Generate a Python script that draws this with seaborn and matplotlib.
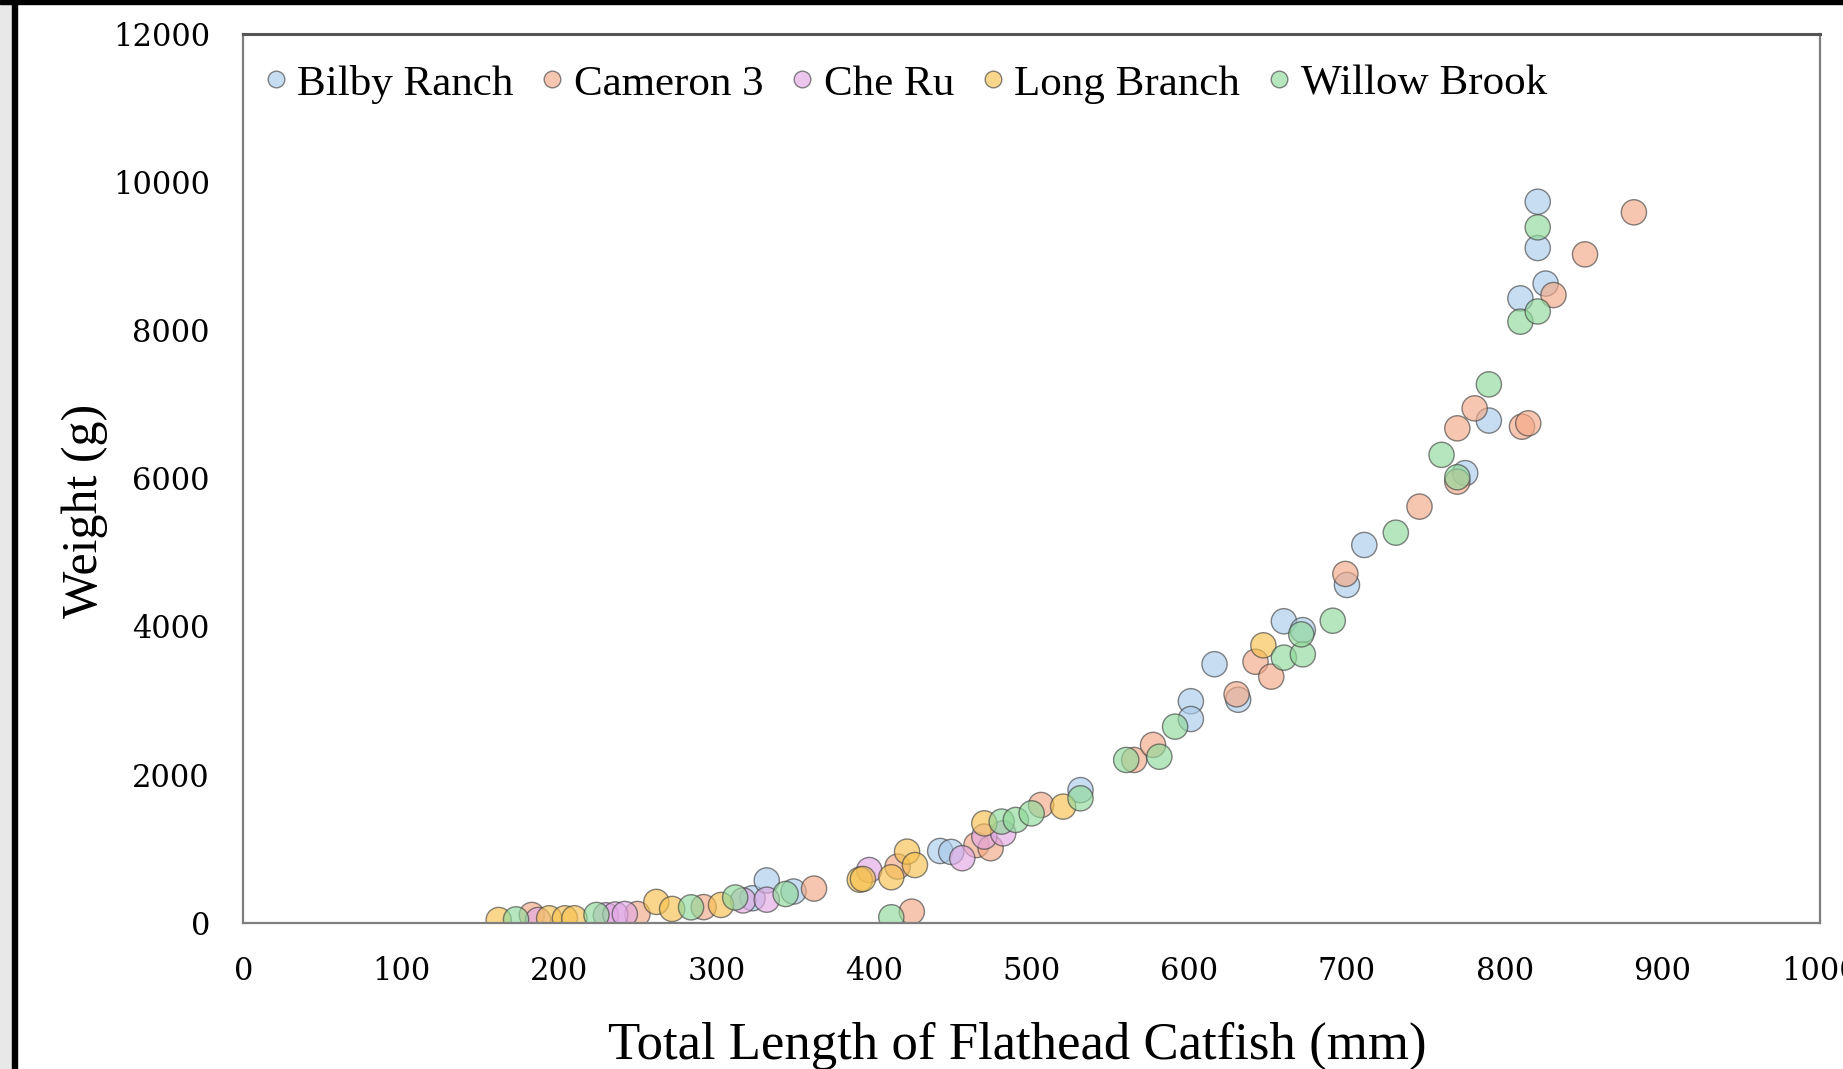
import numpy as np
import pandas as pd
import matplotlib
matplotlib.use("Agg")
import matplotlib.pyplot as plt
from matplotlib.patches import Rectangle
import seaborn as sns

# ---- data ----
sites = ["Bilby Ranch", "Cameron 3", "Che Ru", "Long Branch", "Willow Brook"]

bilby_len = [323, 332, 349, 442, 449, 531, 601, 601, 616, 631, 660, 672, 700, 711, 775, 790, 810, 821, 821, 826]
bilby_wt = [330, 570, 420, 968, 955, 1790, 2990, 2750, 3490, 3010, 4070, 3950, 4560, 5100, 6070, 6780, 8430, 9110, 9735, 8630]

cameron_len = [183, 250, 292, 362, 415, 424, 465, 474, 506, 565, 577, 630, 642, 652, 699, 746, 770, 770, 781, 811, 815, 831, 851, 882]
cameron_wt = [104, 117, 210, 460, 757, 149, 1048, 1005, 1589, 2197, 2400, 3084, 3523, 3322, 4709, 5618, 5955, 6675, 6945, 6697, 6743, 8475, 9024, 9592]

cheru_len = [187, 230, 236, 242, 317, 332, 397, 456, 470, 482]
cheru_wt = [36, 100, 110, 117, 300, 310, 711, 870, 1162, 1206]

longbranch_len = [162, 194, 204, 210, 262, 272, 303, 391, 393, 411, 421, 426, 470, 520, 647]
longbranch_wt = [36, 59, 59, 59, 280, 185, 239, 580, 590, 613, 959, 778, 1341, 1567, 3745]

willow_len = [173, 224, 284, 312, 344, 411, 481, 490, 500, 531, 560, 581, 591, 660, 672, 671, 691, 731, 760, 770, 790, 810, 821, 821]
willow_wt = [45, 104, 207, 340, 387, 73, 1365, 1387, 1476, 1679, 2197, 2241, 2647, 3579, 3623, 3893, 4077, 5266, 6317, 6015, 7269, 8115, 8253, 9389]

x_ticks = [0, 100, 200, 300, 400, 500, 600, 700, 800, 900, 1000]
y_ticks = [0, 2000, 4000, 6000, 8000, 10000, 12000]

lengths = [bilby_len, cameron_len, cheru_len, longbranch_len, willow_len]
weights = [bilby_wt, cameron_wt, cheru_wt, longbranch_wt, willow_wt]

df = pd.concat(
    [pd.DataFrame({"Length": l, "Weight": w, "Site": s}) for s, l, w in zip(sites, lengths, weights)],
    ignore_index=True,
)

palette = {
    "Bilby Ranch": "#a9cbeb",
    "Cameron 3": "#f4a886",
    "Che Ru": "#e2a8e4",
    "Long Branch": "#f6c14e",
    "Willow Brook": "#8fd99a",
}

sns.set_theme(style="white")
plt.rcParams["font.family"] = ["Liberation Serif", "DejaVu Serif"]

fig = plt.figure(figsize=(18.43, 10.69), dpi=100)
ax = fig.add_axes([0.1320, 0.1369, 0.8555, 0.8313])

sns.scatterplot(
    data=df, x="Length", y="Weight", hue="Site", hue_order=sites, palette=palette,
    s=330, alpha=0.65, edgecolor="#444444", linewidth=1.0, ax=ax,
)

ax.set_xlim(0, 1000)
ax.set_ylim(0, 12000)
ax.set_xticks(x_ticks)
ax.set_yticks(y_ticks)
ax.set_xticklabels([str(v) for v in x_ticks], fontfamily="DejaVu Serif", fontsize=22)
ax.set_yticklabels([str(v) for v in y_ticks], fontfamily="DejaVu Serif", fontsize=22)
ax.tick_params(axis="both", length=0, colors="#000000")
ax.tick_params(axis="y", pad=24)
ax.tick_params(axis="x", pad=24)

for sp in ax.spines.values():
    sp.set_color("#7f7f7f")
    sp.set_linewidth(1.6)
ax.spines["top"].set_color("#555555")
ax.spines["top"].set_linewidth(2.2)

ax.set_xlabel("Total Length of Flathead Catfish (mm)", fontsize=38, color="#000000")
ax.set_ylabel("Weight (g)", fontsize=36, color="#000000")
ax.xaxis.set_label_coords(0.491, -0.111)
ax.yaxis.set_label_coords(-0.086, 0.463)

leg = ax.legend(
    loc="upper left", bbox_to_anchor=(0.0, 0.99), ncol=5, frameon=False,
    fontsize=31, markerscale=0.66, handlelength=0.5, handletextpad=0.25,
    columnspacing=0.65, borderaxespad=0.3, borderpad=0.2,
)
for t in leg.get_texts():
    t.set_color("#000000")

# screenshot border decorations
fig.add_artist(Rectangle((0, 0), 12 / 1843, 1, transform=fig.transFigure, color="#e8e8e8", zorder=10))
fig.add_artist(Rectangle((12 / 1843, 0), 5 / 1843, 1, transform=fig.transFigure, color="#000000", zorder=11))
fig.add_artist(Rectangle((0, 1 - 4 / 1069), 1, 4 / 1069, transform=fig.transFigure, color="#000000", zorder=11))

fig.savefig("out.png", dpi=100, facecolor="white")
